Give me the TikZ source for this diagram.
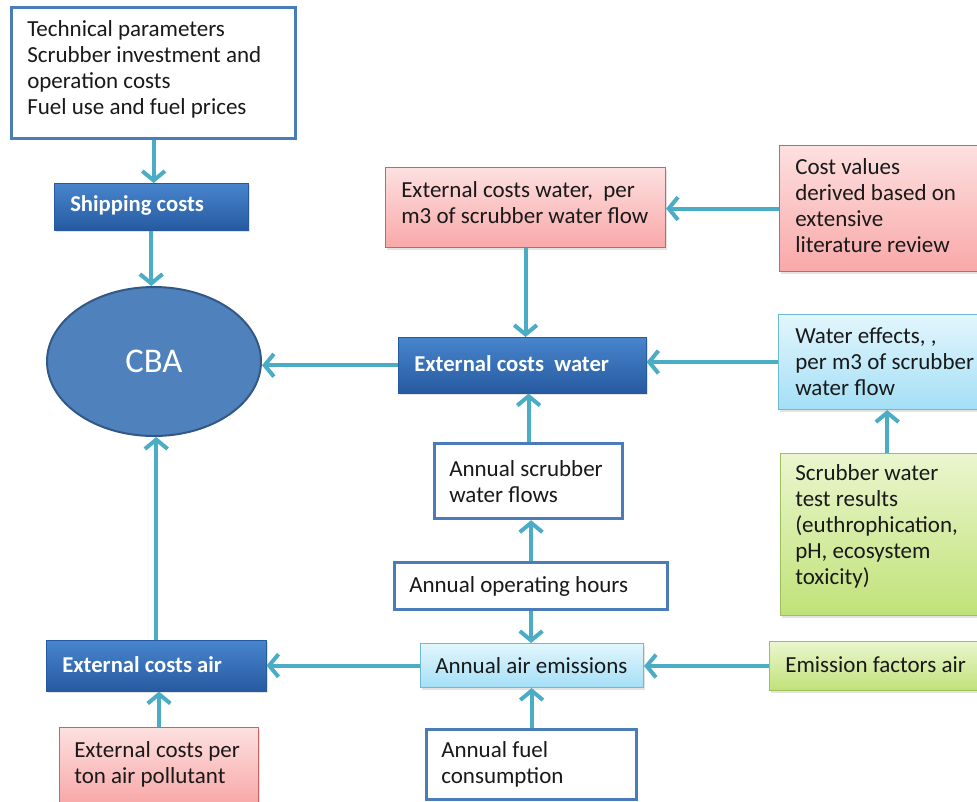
\documentclass[tikz,border=0pt]{standalone}
\usepackage{fontspec}
\setmainfont{Carlito}
\usetikzlibrary{arrows.meta,shapes.geometric,shadows}
\definecolor{arrowc}{RGB}{75,172,198}
\definecolor{bluebd}{RGB}{74,124,186}
\definecolor{dbtop}{RGB}{72,133,205}
\definecolor{dbbot}{RGB}{38,90,160}
\definecolor{pktop}{RGB}{253,224,224}
\definecolor{pkbot}{RGB}{249,168,168}
\definecolor{pkbd}{RGB}{200,100,98}
\definecolor{cytop}{RGB}{226,246,253}
\definecolor{cybot}{RGB}{164,223,246}
\definecolor{cybd}{RGB}{110,185,212}
\definecolor{grtop}{RGB}{234,246,206}
\definecolor{grbot}{RGB}{192,226,120}
\definecolor{grbd}{RGB}{158,192,92}
\definecolor{cbafill}{RGB}{79,129,189}
\definecolor{cbabd}{RGB}{52,88,134}
\definecolor{txtc}{RGB}{25,25,25}
\tikzset{
  basebox/.style={anchor=north west, rectangle, inner sep=0pt},
  shad/.style={drop shadow={shadow xshift=1.2pt, shadow yshift=-1.6pt, opacity=0.22}},
  whitebox/.style={basebox, draw=bluebd, line width=2.4pt, fill=white},
  darkbox/.style={basebox, shad, top color=dbtop, bottom color=dbbot, draw=dbbot, line width=0.4pt},
  pinkbox/.style={basebox, shad, top color=pktop, bottom color=pkbot, draw=pkbd, line width=0.8pt},
  cyanbox/.style={basebox, shad, top color=cytop, bottom color=cybot, draw=cybd, line width=0.8pt},
  greenbox/.style={basebox, shad, top color=grtop, bottom color=grbot, draw=grbd, line width=0.8pt},
  txt/.style={anchor=west, align=left, inner sep=0pt, text=txtc, font=\fontsize{17.25pt}{19.5pt}\selectfont},
  wtxt/.style={anchor=west, align=left, inner sep=0pt, text=white, font=\bfseries\fontsize{17pt}{19.5pt}\selectfont},
  arr/.style={draw=arrowc, line width=3pt, -{Straight Barb[length=7pt,width=17pt]}}
}
\begin{document}
\begin{tikzpicture}[x=0.75pt,y=-0.75pt]
\useasboundingbox (0,0) rectangle (977,801);
% boxes
\node[whitebox, minimum width=213pt, minimum height=98.25pt] (top) at (10,6) {};
\node[txt] (top-t) at ([xshift=12.75pt, yshift=2.5pt]top.west) {Technical parameters\\Scrubber investment and\\operation costs\\Fuel use and fuel prices};

\node[darkbox, minimum width=145.5pt, minimum height=35.25pt] (ship) at (54,183) {};
\node[wtxt] (ship-t) at ([xshift=12pt, yshift=1pt]ship.west) {Shipping costs};

\node[ellipse, fill=cbafill, draw=cbabd, line width=1.5pt, minimum width=160.5pt, minimum height=111.75pt, inner sep=0pt, text=white, font=\fontsize{26pt}{30pt}\selectfont] (cba) at (154,361.5) {CBA};

\node[pinkbox, minimum width=210pt, minimum height=60pt] (pinkw) at (385,167) {};
\node[txt] (pinkw-t) at ([xshift=12pt, yshift=3.5pt]pinkw.west) {External costs water,~ per\\m3 of scrubber water flow};

\node[pinkbox, minimum width=165pt, minimum height=94.5pt] (costv) at (779,145) {};
\node[txt] (costv-t) at ([xshift=12pt, yshift=2pt]costv.west) {Cost values\\derived based on\\extensive\\literature review};

\node[darkbox, minimum width=186pt, minimum height=42pt] (extw) at (398,337) {};
\node[wtxt] (extw-t) at ([xshift=12pt, yshift=1pt]extw.west) {External costs~ water};

\node[cyanbox, minimum width=160pt, minimum height=71.25pt] (wateff) at (778,314) {};
\node[txt] (wateff-t) at ([xshift=12.75pt]wateff.west) {Water effects, ,\\per m3 of scrubber\\water flow};

\node[whitebox, minimum width=141pt, minimum height=56.25pt] (flows) at (433,442) {};
\node[txt] (flows-t) at ([xshift=12pt]flows.west) {Annual scrubber\\water flows};

\node[greenbox, minimum width=160pt, minimum height=121.5pt] (test) at (780,453) {};
\node[txt] (test-t) at ([xshift=11.25pt, yshift=6pt]test.west) {Scrubber water\\test results\\(euthrophication,\\pH, ecosystem\\toxicity)};

\node[whitebox, minimum width=204.75pt, minimum height=35.25pt] (hours) at (393,561) {};
\node[txt] (hours-t) at ([xshift=12pt]hours.west) {Annual operating hours};

\node[cyanbox, minimum width=167.25pt, minimum height=33pt] (airem) at (420,643) {};
\node[txt] (airem-t) at ([xshift=11.25pt]airem.west) {Annual air emissions};

\node[greenbox, minimum width=165pt, minimum height=36.75pt] (emf) at (769,641) {};
\node[txt] (emf-t) at ([xshift=12pt, yshift=1pt]emf.west) {Emission factors air};

\node[whitebox, minimum width=157.5pt, minimum height=52.5pt] (fuel) at (425,728) {};
\node[txt] (fuel-t) at ([xshift=12pt]fuel.west) {Annual fuel\\consumption};

\node[darkbox, minimum width=165pt, minimum height=38.25pt] (extair) at (46,640) {};
\node[wtxt] (extair-t) at ([xshift=12pt, yshift=1pt]extair.west) {External costs air};

\node[pinkbox, minimum width=149.25pt, minimum height=57pt] (perton) at (59,727) {};
\node[txt] (perton-t) at ([xshift=11.25pt, yshift=1pt]perton.west) {External costs per\\ton air pollutant};

% connectors
\draw[arr] (top.south) -- (top.south |- ship.north);
\draw[arr] (ship.south) -- (ship.south |- cba.north);
\draw[arr] (extw.west) -- (extw.west -| cba.east);
\draw[arr] (extair.north) -- (extair.north |- cba.south);
\draw[arr] (pinkw.south) -- (pinkw.south |- extw.north);
\draw[arr] (costv.west) -- (costv.west -| pinkw.east);
\draw[arr] (wateff.west) -- (wateff.west -| extw.east);
\draw[arr] (test.north) -- (test.north |- wateff.south);
\draw[arr] (flows.north) -- (flows.north |- extw.south);
\draw[arr] (hours.north) -- (hours.north |- flows.south);
\draw[arr] (hours.south) -- (hours.south |- airem.north);
\draw[arr] (fuel.north) -- (fuel.north |- airem.south);
\draw[arr] (emf.west) -- (emf.west -| airem.east);
\draw[arr] (airem.west) -- (airem.west -| extair.east);
\draw[arr] (perton.north) -- (perton.north |- extair.south);
\end{tikzpicture}
\end{document}
